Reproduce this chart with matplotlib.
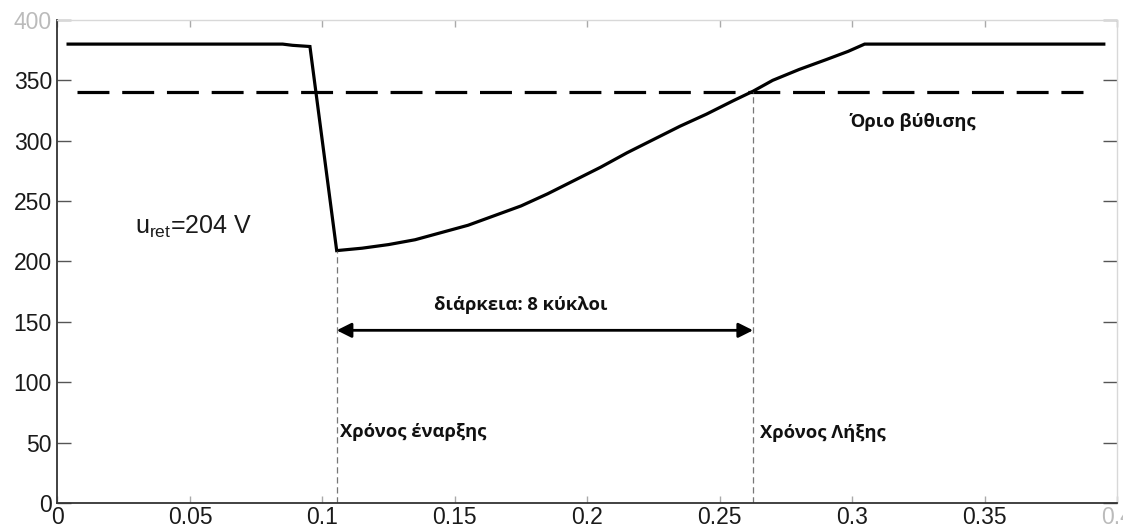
"""
Voltage sag: RMS voltage during a dip, with sag threshold,
start / end instants and the duration arrow.
"""

import matplotlib
matplotlib.use("Agg")
import matplotlib.pyplot as plt

# RMS voltage trace (time in s, voltage in V)
t_rms = [0.004, 0.085, 0.0887, 0.0953, 0.1054, 0.115, 0.125, 0.135, 0.145,
         0.155, 0.165, 0.175, 0.185, 0.195, 0.205, 0.215, 0.225, 0.235,
         0.245, 0.255, 0.2626, 0.27, 0.28, 0.29, 0.2985, 0.3047, 0.395]
v_rms = [380, 380, 379, 378, 209, 211, 214, 218, 224,
         230, 238, 246, 256, 267, 278, 290, 301, 312,
         322, 333, 341, 350, 359, 367, 374, 380, 380]

# sag threshold line
t_thr = [0.0073, 0.387]
v_thr = [340, 340]

t_start = 0.1054
t_end = 0.2626
v_min = 209
v_threshold = 340
arrow_level = 143

x_ticks = [0, 0.05, 0.1, 0.15, 0.2, 0.25, 0.3, 0.35, 0.4]
x_labels = ['0', '0.05', '0.1', '0.15', '0.2', '0.25', '0.3', '0.35', '0.4']
y_ticks = [0, 50, 100, 150, 200, 250, 300, 350, 400]

fig = plt.figure(figsize=(11.23, 5.32), dpi=100)
ax = fig.add_axes([0.0512, 0.0545, 0.9435, 0.908])

ax.plot(t_rms, v_rms, color='black', lw=2.3, solid_joinstyle='miter')
ax.plot(t_thr, v_thr, color='black', lw=2.3, dashes=(10, 4))

# start / end markers
ax.plot([t_start, t_start], [0, v_min], color='#777777', lw=0.9, dashes=(5, 3))
ax.plot([t_end, t_end], [0, v_threshold], color='#777777', lw=0.9, dashes=(5, 3))

ax.annotate('', xy=(t_start, arrow_level), xytext=(t_end, arrow_level),
            arrowprops=dict(arrowstyle='<|-|>', color='black', lw=2,
                            mutation_scale=22, shrinkA=0, shrinkB=0))

greek = dict(family=['Open Sans', 'DejaVu Sans'], fontweight='bold',
             fontsize=13.2, color='#111111')
ax.text(0.175, 164, 'διάρκεια: 8 κύκλοι', ha='center', va='center', **greek)
ax.text(0.1068, 59, 'Χρόνος έναρξης', ha='left', va='center', **greek)
ax.text(0.2652, 58, 'Χρόνος Λήξης', ha='left', va='center', **greek)
ax.text(0.299, 315.5, 'Όριο βύθισης', ha='left', va='center', **greek)

ax.text(0.0292, 229, r'u$_{\mathregular{ret}}$=204 V', ha='left', va='center',
        family='Liberation Sans', fontsize=18, color='#1a1a1a')

ax.set_xlim(0, 0.4)
ax.set_ylim(0, 400)
ax.set_xticks(x_ticks)
ax.set_xticklabels(x_labels)
ax.set_yticks(y_ticks)

for lab in ax.get_xticklabels() + ax.get_yticklabels():
    lab.set_family('Liberation Sans')
    lab.set_fontsize(16.5)
    lab.set_color('#1a1a1a')
ax.get_yticklabels()[-1].set_color('#bbbbbb')
ax.get_xticklabels()[-1].set_color('#bbbbbb')

ax.tick_params(axis='x', direction='in', length=5, width=1, color='#aaaaaa',
               top=True, pad=2.5)
ax.tick_params(axis='y', direction='in', length=10, width=1, color='#555555',
               right=True, pad=4)

for side in ['left', 'bottom']:
    ax.spines[side].set_color('#333333')
    ax.spines[side].set_linewidth(1.3)
for side in ['top', 'right']:
    ax.spines[side].set_color('#d8d8d8')
    ax.spines[side].set_linewidth(1.0)

fig.savefig('out.png', dpi=100)
